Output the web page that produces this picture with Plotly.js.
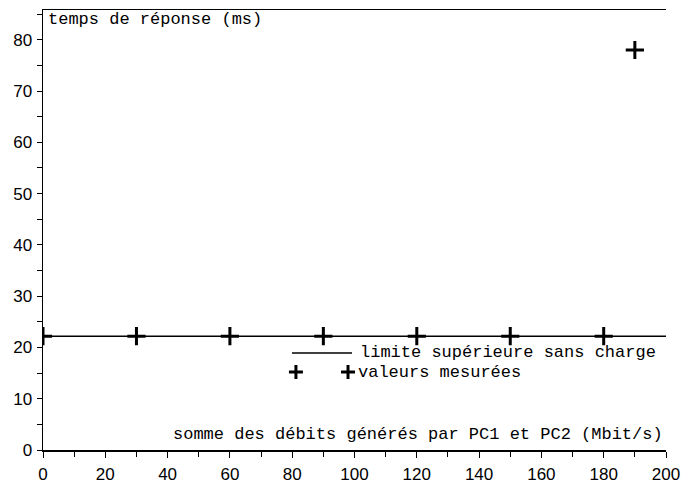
<!DOCTYPE html>
<html><head><meta charset="utf-8">
<script src="https://cdn.plot.ly/plotly-3.0.1.min.js"></script>
<style>html,body{margin:0;padding:0;background:#fff}#c{width:681px;height:484px}</style>
</head><body><div id="c"></div>
<script>
const limitX = [0, 200];
const limitY = [22.2, 22.2];
const measX = [0, 30, 60, 90, 120, 150, 180, 190];
const measY = [22.2, 22.2, 22.2, 22.2, 22.2, 22.2, 22.2, 78];
const yTitle = 'temps de réponse (ms)';
const xTitle = 'somme des débits générés par PC1 et PC2 (Mbit/s)';
const legLine = 'limite supérieure sans charge';
const legMarks = 'valeurs mesurées';

const mono = 'Liberation Mono, Courier New, monospace';
const tickFont = {family: 'Liberation Sans, Arial, sans-serif', size: 17, color: '#000'};
const cross = {symbol: 'cross-thin', size: 13, color: '#000', line: {color: '#000', width: 3}};
const crossSmall = {symbol: 'cross-thin', size: 10, color: '#000', line: {color: '#000', width: 3}};

const traces = [
  {x: limitX, y: limitY, mode: 'lines', line: {color: '#000', width: 1.5}, hoverinfo: 'skip'},
  {x: measX, y: measY, mode: 'markers', marker: cross, hoverinfo: 'skip'},
  {x: [0.3997, 0.496], y: [0.2205, 0.2205], xaxis: 'x2', yaxis: 'y3', mode: 'lines', line: {color: '#000', width: 1.5}, hoverinfo: 'skip'},
  {x: [0.406, 0.4896], y: [0.177, 0.177], xaxis: 'x2', yaxis: 'y3', mode: 'markers', marker: crossSmall, hoverinfo: 'skip', cliponaxis: false}
];

const layout = {
  width: 681, height: 484,
  margin: {l: 43, r: 15, t: 10, b: 34},
  paper_bgcolor: '#fff', plot_bgcolor: '#fff',
  showlegend: false,
  xaxis: {range: [0, 200], dtick: 20, tick0: 0, ticks: 'outside', ticklen: 6, tickwidth: 1, tickcolor: '#000',
    minor: {dtick: 10, ticks: 'outside', ticklen: 5, tickcolor: '#000'},
    showline: true, linecolor: '#000', linewidth: 1.5, mirror: true, showgrid: false, zeroline: false,
    tickfont: tickFont, ticklabeloverflow: 'allow', ticklabelstandoff: 2, fixedrange: true},
  yaxis: {range: [0, 85.8], dtick: 10, tick0: 0, ticks: 'outside', ticklen: 5, tickwidth: 1, tickcolor: '#000',
    minor: {dtick: 5, ticks: 'outside', ticklen: 5, tickcolor: '#000'},
    showline: true, linecolor: '#000', linewidth: 1.5, showgrid: false, zeroline: false,
    tickfont: tickFont, ticklabelstandoff: 1, ticklabeloverflow: 'allow', fixedrange: true},
  yaxis2: {overlaying: 'y', side: 'right', range: [0, 85.8], showline: true, linecolor: '#808080', linewidth: 1.5,
    showticklabels: false, ticks: '', showgrid: false, zeroline: false},
  xaxis2: {overlaying: 'x', range: [0, 1], visible: false},
  yaxis3: {overlaying: 'y', range: [0, 1], visible: false},
  annotations: [
    {xref: 'paper', yref: 'paper', x: 0.005, y: 1.004, xanchor: 'left', yanchor: 'top', showarrow: false,
      text: yTitle, font: {family: mono, size: 17, color: '#000'}},
    {xref: 'paper', yref: 'paper', x: 0.998, y: 0.008, xanchor: 'right', yanchor: 'bottom', showarrow: false,
      text: xTitle, font: {family: mono, size: 17, color: '#000'}},
    {xref: 'paper', yref: 'paper', x: 0.506, y: 0.2205, xanchor: 'left', yanchor: 'middle', showarrow: false,
      text: legLine, font: {family: mono, size: 17, color: '#000'}},
    {xref: 'paper', yref: 'paper', x: 0.503, y: 0.177, xanchor: 'left', yanchor: 'middle', showarrow: false,
      text: legMarks, font: {family: mono, size: 17, color: '#000'}}
  ]
};
Plotly.newPlot('c', traces, layout, {staticPlot: true, displayModeBar: false});
</script></body></html>
